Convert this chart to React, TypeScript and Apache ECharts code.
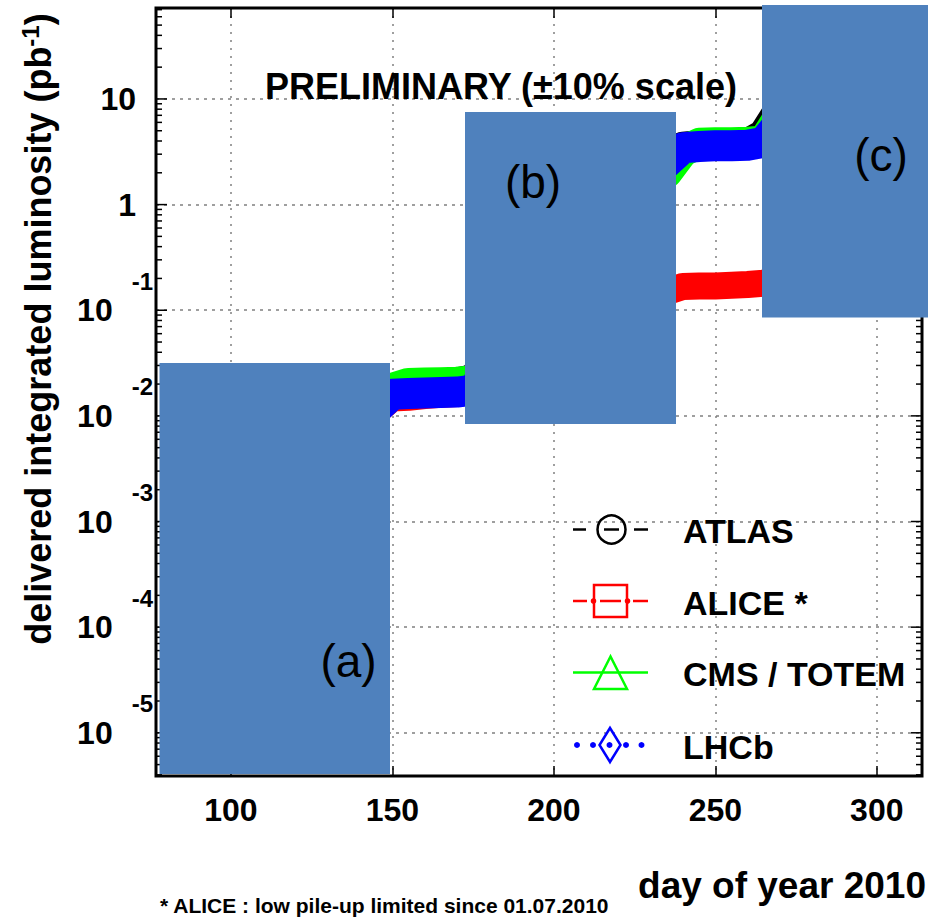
import React, { useEffect, useRef } from 'react';
import * as echarts from 'echarts';

// ---- data (day of year 2010, delivered integrated luminosity in pb^-1) ----
const days = [91, 95, 100, 105, 110, 115, 120, 125, 130, 135, 140, 145, 150, 155, 160, 165, 170, 175, 180, 185, 190, 195, 200, 205, 210, 215, 220, 225, 230, 235, 240, 245, 250, 255, 260, 265, 270, 275, 280, 285, 290, 295, 300, 303];
const atlas = [1.2e-5, 4e-5, 1.2e-4, 2.2e-4, 4e-4, 6.5e-4, 1e-3, 1.6e-3, 3.2e-3, 5.5e-3, 8.5e-3, 1.3e-2, 0.018, 0.0195, 0.02, 0.02, 0.0205, 0.022, 0.035, 0.16, 0.27, 0.38, 0.55, 0.75, 0.95, 1.15, 1.45, 1.85, 2.4, 2.9, 3.5, 3.6, 3.65, 3.7, 3.75, 4.6, 8, 13, 18, 24, 31, 38, 44, 47];
const alice = [9e-6, 2.5e-5, 9e-5, 1.7e-4, 3e-4, 5e-4, 8e-4, 1.3e-3, 2.6e-3, 4.4e-3, 7e-3, 1.1e-2, 0.0148, 0.015, 0.0156, 0.016, 0.0163, 0.0172, 0.027, 0.06, 0.072, 0.085, 0.095, 0.105, 0.115, 0.125, 0.133, 0.14, 0.145, 0.15, 0.168, 0.17, 0.17, 0.172, 0.175, 0.18, 0.2, 0.22, 0.25, 0.28, 0.31, 0.34, 0.37, 0.38];
const cms = [1.2e-5, 4e-5, 1.2e-4, 2.2e-4, 4e-4, 6.5e-4, 1e-3, 1.6e-3, 3.2e-3, 5.5e-3, 8.5e-3, 1.3e-2, 0.0182, 0.0203, 0.0205, 0.0206, 0.0208, 0.0215, 0.034, 0.15, 0.25, 0.35, 0.5, 0.68, 0.85, 1.05, 1.3, 1.6, 1.9, 2.0, 3.2, 3.8, 3.85, 3.85, 3.9, 4.0, 7, 11, 16, 22, 28, 35, 41, 44];
const lhcb = [1e-5, 3e-5, 1e-4, 1.9e-4, 3.3e-4, 5.5e-4, 8.5e-4, 1.4e-3, 2.8e-3, 4.8e-3, 7.5e-3, 1.15e-2, 0.016, 0.0163, 0.0165, 0.0166, 0.0168, 0.0175, 0.03, 0.12, 0.2, 0.29, 0.42, 0.58, 0.76, 0.95, 1.2, 1.5, 1.95, 2.5, 3.45, 3.55, 3.6, 3.6, 3.65, 3.9, 6, 9, 13, 18, 24, 30, 35, 37];

const seriesNames = ['ATLAS', 'ALICE *', 'CMS / TOTEM', 'LHCb'];
const seriesColors = ['#000000', '#ff0000', '#00ff00', '#0000ff'];
const xTickLabels = [100, 150, 200, 250, 300];
const boxLabels = ['(a)', '(b)', '(c)'];
const chartTitle = 'PRELIMINARY (\u00b110% scale)';
const xTitle = 'day of year 2010';
const footnote = '* ALICE : low pile-up limited since 01.07.2010';

const FONT = '"Liberation Sans", Arial, Helvetica, sans-serif';

export default function App() {
  const ref = useRef<HTMLDivElement>(null);
  useEffect(() => {
    const chart = echarts.init(ref.current as HTMLDivElement, null, { renderer: 'svg' });
    const X_MIN = 76.8, X_MAX = 314, Y_MIN = 3.9e-6, Y_MAX = 72.6;
    const pair = (arr: number[]) => days.map((d, i) => [d, arr[i]]);
    const all = [atlas, alice, cms, lhcb];
    const widths = [31, 27, 31, 31];

    const tickData: number[][] = [];
    for (let e = -6; e <= 1; e++) {
      for (let m = 1; m <= 9; m++) {
        const v = m * Math.pow(10, e);
        if (v > Y_MIN && v < Y_MAX) tickData.push([X_MIN, v, m === 1 ? 1 : 0]);
      }
    }

    const isPow10 = (v: number) => {
      const l = Math.log10(v);
      return Math.abs(l - Math.round(l)) < 1e-6;
    };

    const txt = (text: string, x: number, y: number, size: number, align: string, weight = 'bold', extra: any = {}) => ({
      type: 'text', x, y, z: 50,
      style: { text, fontSize: size, fontWeight: weight, fontFamily: FONT, fill: '#000', textAlign: align, textVerticalAlign: 'middle' },
      ...extra,
    });

    // legend elements
    const legendY = [529.5, 601, 672.5, 745];
    const lg: any[] = [];
    const ln = (x1: number, x2: number, y: number, c: string) => ({ type: 'line', z: 50, shape: { x1, y1: y, x2, y2: y }, style: { stroke: c, lineWidth: 2.5 } });
    // ATLAS
    lg.push(ln(573, 586, legendY[0], '#000'), ln(634, 648, legendY[0], '#000'), ln(604, 619, legendY[0], '#000'));
    lg.push({ type: 'circle', z: 50, shape: { cx: 611.5, cy: legendY[0], r: 14 }, style: { fill: 'none', stroke: '#000', lineWidth: 2.5 } });
    // ALICE
    lg.push(ln(573, 587, legendY[1], '#f00'), ln(633, 648, legendY[1], '#f00'), ln(600, 621, legendY[1], '#f00'));
    lg.push({ type: 'rect', z: 50, shape: { x: 594, y: 585, width: 33, height: 32 }, style: { fill: 'none', stroke: '#f00', lineWidth: 2.5 } });
    lg.push({ type: 'circle', z: 51, shape: { cx: 593.5, cy: legendY[1], r: 2.8 }, style: { fill: '#f00' } });
    lg.push({ type: 'circle', z: 51, shape: { cx: 627.5, cy: legendY[1], r: 2.8 }, style: { fill: '#f00' } });
    // CMS
    lg.push(ln(573, 648, legendY[2], '#0f0'));
    lg.push({ type: 'polygon', z: 50, shape: { points: [[610.5, 656.5], [594, 689], [627, 689]] }, style: { fill: 'none', stroke: '#0f0', lineWidth: 2.5 } });
    // LHCb
    [577, 593, 609.5, 626, 641.5].forEach((cx) => lg.push({ type: 'circle', z: 50, shape: { cx, cy: legendY[3], r: 3 }, style: { fill: '#00f' } }));
    lg.push({ type: 'polygon', z: 50, shape: { points: [[610, 728], [620.5, 745], [610, 762], [599.5, 745]] }, style: { fill: 'none', stroke: '#00f', lineWidth: 2.5 } });
    seriesNames.forEach((n, i) => lg.push(txt(n, 683, legendY[i] + 1.5, 34, 'left')));

    const BOX = '#4F81BD';
    const boxes = [
      { x: 159.5, y: 363, w: 230.5, h: 411, lx: 348.5, ly: 661 },
      { x: 465, y: 112, w: 211, h: 312, lx: 533, ly: 182 },
      { x: 762, y: 5, w: 166, h: 312.5, lx: 881, ly: 155 },
    ];
    const boxEls: any[] = [];
    boxes.forEach((b, i) => {
      boxEls.push({ type: 'rect', z: 100, shape: { x: b.x, y: b.y, width: b.w, height: b.h }, style: { fill: BOX } });
      boxEls.push({ type: 'text', z: 101, x: b.lx, y: b.ly, style: { text: boxLabels[i], fontSize: 46, fontFamily: FONT, fill: '#000', textAlign: 'center', textVerticalAlign: 'middle' } });
    });

    const option: any = {
      animation: false,
      backgroundColor: '#fff',
      grid: { left: 156, right: 6, top: 8, bottom: 141, show: true, borderColor: '#000', borderWidth: 3, backgroundColor: 'transparent', z: 10 },
      xAxis: [
        {
          type: 'value', min: X_MIN, max: X_MAX, position: 'bottom',
          axisLine: { show: false },
          axisTick: { show: true, inside: true, length: 10, lineStyle: { color: '#000', width: 1.5 } },
          axisLabel: {
            margin: 18, fontSize: 32, fontWeight: 'bold', fontFamily: FONT, color: '#000',
            formatter: (v: number) => (xTickLabels.indexOf(Math.round(v)) >= 0 && Math.abs(v - Math.round(v)) < 1e-6 ? String(Math.round(v)) : ''),
          },
          splitLine: { show: true, lineStyle: { color: '#808080', width: 1.5, type: [2, 6] } },
        },
        {
          type: 'value', min: X_MIN, max: X_MAX, position: 'top',
          axisLine: { show: false },
          axisTick: { show: true, inside: true, length: 10, lineStyle: { color: '#000', width: 1.5 } },
          axisLabel: { show: false },
          splitLine: { show: false },
        },
      ],
      yAxis: {
        type: 'log', logBase: 10, min: Y_MIN, max: Y_MAX,
        axisLine: { show: false },
        axisTick: { show: false },
        axisLabel: {
          margin: 3, align: 'right', color: '#000',
          formatter: (v: number) => {
            if (!isPow10(v)) return '';
            const n = Math.round(Math.log10(v));
            if (n === 1) return '{b|10}{sp|}';
            if (n === 0) return '{b|1}{sp|}';
            return '{b|10}{g|}{e|' + n + '}';
          },
          rich: {
            b: { fontSize: 32, fontWeight: 'bold', fontFamily: FONT, color: '#000', lineHeight: 36 },
            e: { fontSize: 24, fontWeight: 'bold', fontFamily: FONT, color: '#000', lineHeight: 24, verticalAlign: 'top' },
            g: { width: 19, lineHeight: 82 },
            sp: { width: 17 },
          },
        },
        splitLine: { show: true, lineStyle: { color: '#808080', width: 1.5, type: [3, 5] } },
      },
      series: [
        ...all.map((arr, i) => ({
          type: 'line', name: seriesNames[i], data: pair(arr), symbol: 'none', showSymbol: false,
          lineStyle: { color: seriesColors[i], width: widths[i], join: 'round', cap: 'round' },
          z: 3, silent: true,
        })),
        {
          type: 'custom', data: tickData, encode: { x: 0, y: 1 }, silent: true, z: 20, clip: false,
          renderItem: (params: any, api: any) => {
            const cs = params.coordSys;
            const y = api.coord([X_MIN, api.value(1)])[1];
            const len = api.value(2) ? 11 : 6;
            return {
              type: 'group', children: [
                { type: 'line', shape: { x1: cs.x, y1: y, x2: cs.x + len, y2: y }, style: { stroke: '#000', lineWidth: 1.5 } },
                { type: 'line', shape: { x1: cs.x + cs.width - len, y1: y, x2: cs.x + cs.width, y2: y }, style: { stroke: '#000', lineWidth: 1.5 } },
              ],
            };
          },
        },
      ],
      graphic: [
        txt(chartTitle, 501, 86, 36, 'center'),
        txt(xTitle, 926, 885, 37, 'right'),
        txt(footnote, 160, 905, 21, 'left'),
        {
          type: 'text', x: 38, y: 329, rotation: Math.PI / 2, z: 50,
          style: {
            text: '{t|delivered integrated luminosity (pb}{s|-1}{t|)}',
            textAlign: 'center', textVerticalAlign: 'middle',
            rich: {
              t: { fontSize: 36, fontWeight: 'bold', fontFamily: FONT, fill: '#000', color: '#000', lineHeight: 40 },
              s: { fontSize: 24, fontWeight: 'bold', fontFamily: FONT, fill: '#000', color: '#000', lineHeight: 34, verticalAlign: 'top' },
            },
          },
        },
        ...lg,
        ...boxEls,
      ],
    };
    chart.setOption(option);
    return () => chart.dispose();
  }, []);
  return <div ref={ref} style={{ position: 'absolute', left: 0, top: 0, width: 928, height: 917 }} />;
}
